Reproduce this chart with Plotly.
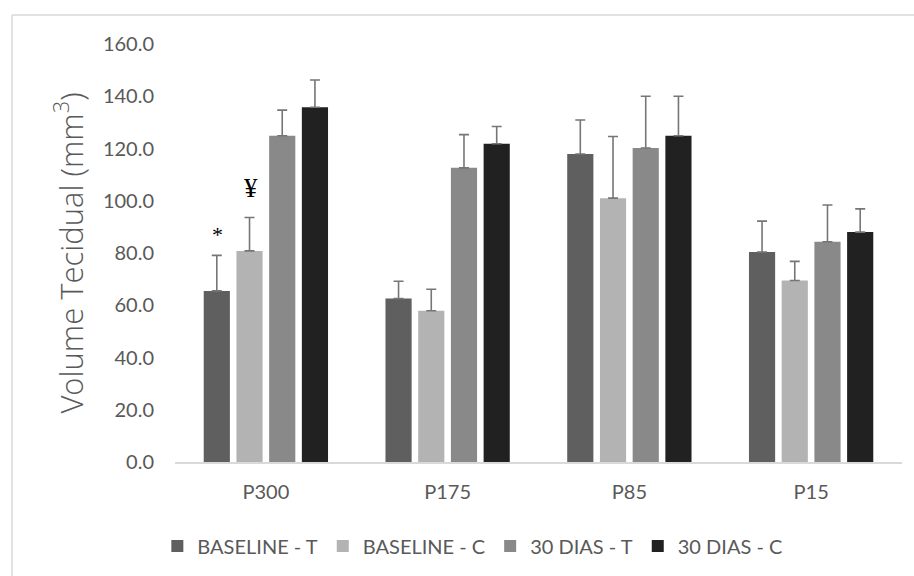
import plotly.graph_objects as go

categories = ["P300", "P175", "P85", "P15"]
series_names = ["BASELINE - T", "BASELINE - C", "30 DIAS - T", "30 DIAS - C"]
baseline_t = [65.5, 62.6, 117.9, 80.4]
baseline_c = [80.8, 57.9, 101.0, 69.5]
dias30_t = [124.9, 112.6, 120.2, 84.3]
dias30_c = [135.8, 121.8, 124.9, 88.0]
err_baseline_t = [13.6, 6.6, 13.0, 11.8]
err_baseline_c = [12.8, 8.2, 23.6, 7.3]
err_dias30_t = [9.8, 12.7, 19.8, 14.1]
err_dias30_c = [10.4, 6.6, 15.1, 8.9]
y_ticks = [0, 20, 40, 60, 80, 100, 120, 140, 160]

values = [baseline_t, baseline_c, dias30_t, dias30_c]
errors = [err_baseline_t, err_baseline_c, err_dias30_t, err_dias30_c]
colors = ["#5f5f5f", "#b3b3b3", "#898989", "#212121"]

fig = go.Figure()
for name, vals, errs, col in zip(series_names, values, errors, colors):
    fig.add_trace(go.Bar(
        x=categories, y=vals, name=name,
        marker=dict(color=col, line=dict(width=0)),
        error_y=dict(type="data", array=errs, arrayminus=[0] * len(errs),
                     symmetric=False, color="#767676", thickness=1.6, width=5),
    ))

FONT = "Lato, Open Sans, DejaVu Sans, sans-serif"
tick_font = dict(family=FONT, size=20, color="#595959")

fig.update_layout(
    width=914, height=576,
    margin=dict(l=175, r=12, t=44, b=113),
    paper_bgcolor="white", plot_bgcolor="white",
    barmode="group", bargap=0.28, bargroupgap=0.2,
    showlegend=True,
    legend=dict(orientation="h", x=0.409, xanchor="center", y=-0.198, yanchor="middle",
                font=dict(family=FONT, size=20, color="#595959"),
                itemwidth=30, traceorder="normal"),
    xaxis=dict(showline=True, linecolor="#d9d9d9", linewidth=1.5, showgrid=False,
               ticks="", tickfont=tick_font, ticklabelstandoff=11, zeroline=False),
    yaxis=dict(range=[0, 160], tickvals=y_ticks, tickformat=".1f", showgrid=False,
               showline=False, zeroline=False, ticks="", tickfont=tick_font,
               ticklabelstandoff=20,
               title=dict(text="Volume Tecidual (mm<sup>3</sup>)", standoff=10,
                          font=dict(family="Open Sans, DejaVu Sans, sans-serif", size=31,
                                    color="#595959", weight=300))),
    annotations=[
        dict(x="P300", y=87, xref="x", yref="y", text="*", showarrow=False, xshift=-48,
             font=dict(family="Liberation Serif, DejaVu Serif, serif", size=22, color="black")),
        dict(x="P300", y=105, xref="x", yref="y", text="¥", showarrow=False, xshift=-15,
             font=dict(family="Liberation Serif, DejaVu Serif, serif", size=27, color="black")),
    ],
    shapes=[
        dict(type="line", xref="paper", yref="paper", x0=-0.2242, x1=-0.2242, y0=1.0692, y1=-0.3,
             line=dict(color="#d9d9d9", width=1.5)),
        dict(type="line", xref="paper", yref="paper", x0=-0.2242, x1=1.05, y0=1.0692, y1=1.0692,
             line=dict(color="#d9d9d9", width=1.5)),
    ],
)

fig.write_html("out.html", config={"displayModeBar": False},
               post_script="document.body.style.margin='0';")
